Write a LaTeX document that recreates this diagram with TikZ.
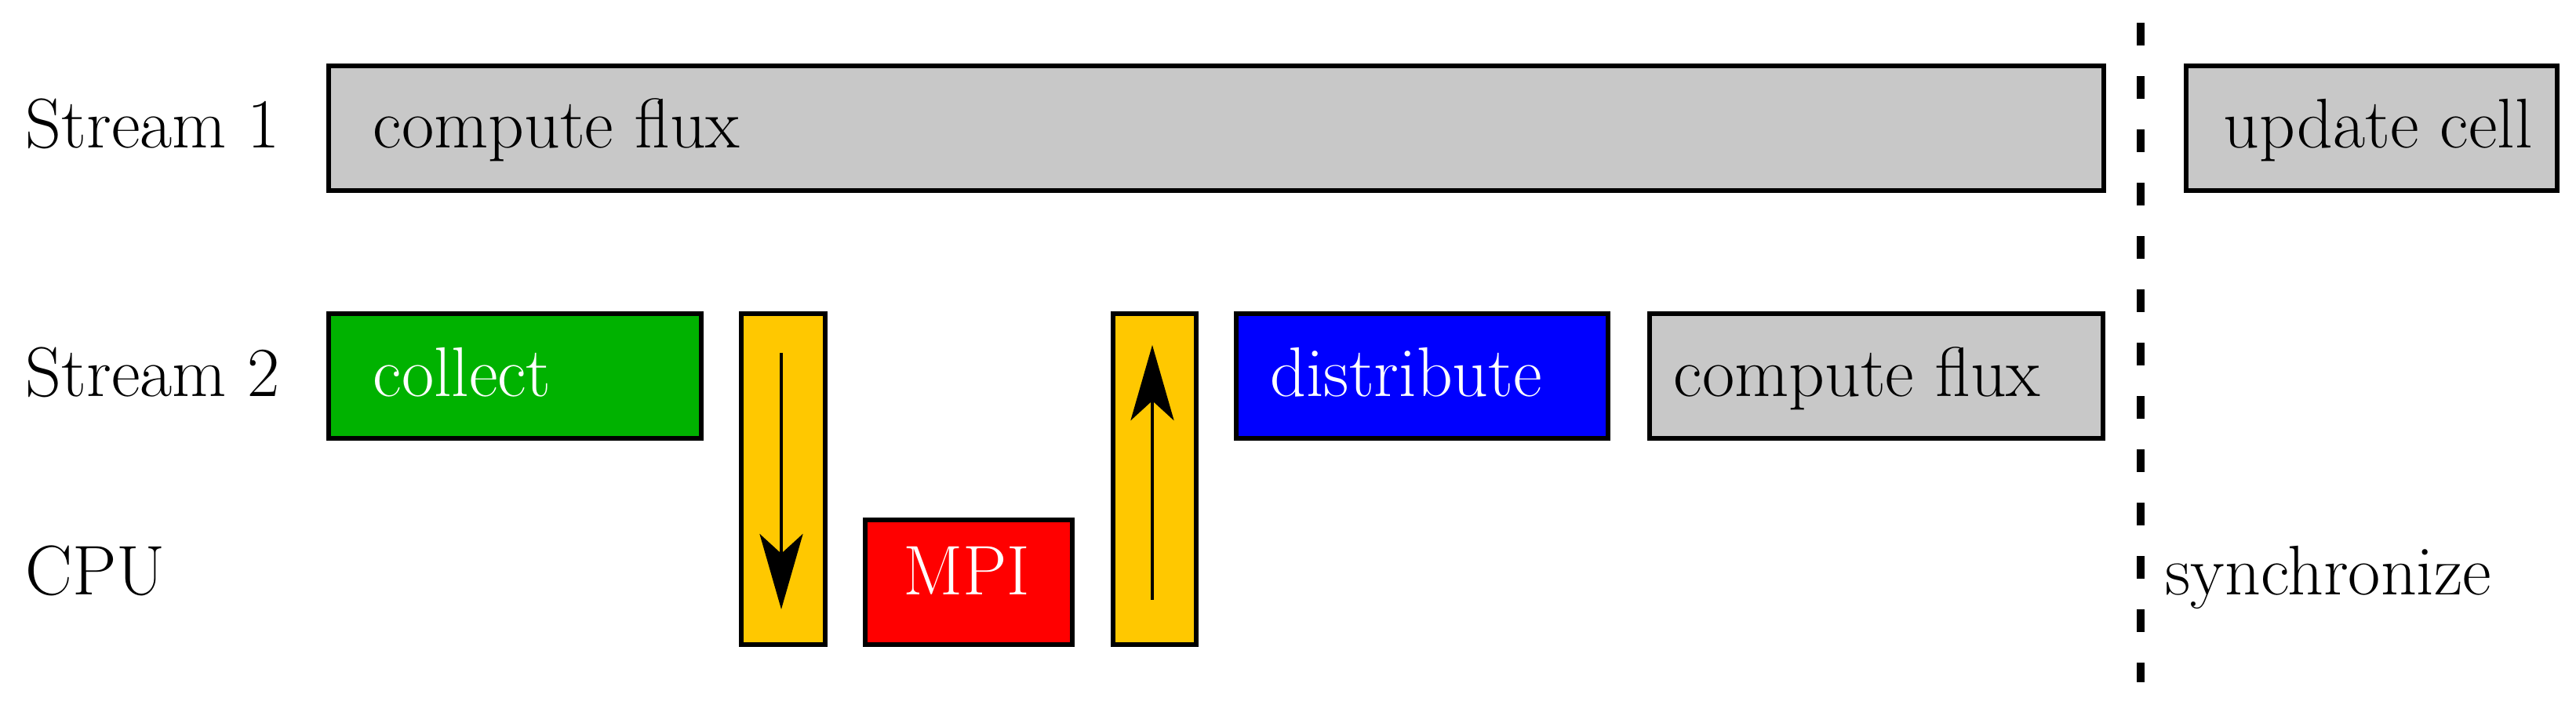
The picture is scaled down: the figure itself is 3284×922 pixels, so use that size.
\documentclass[tikz,border=0pt]{standalone}
\usetikzlibrary{arrows.meta}
\definecolor{boxgray}{RGB}{200,200,200}
\definecolor{boxgreen}{RGB}{0,178,0}
\definecolor{boxyellow}{RGB}{255,200,0}
\definecolor{boxblue}{RGB}{0,0,255}
\definecolor{boxred}{RGB}{255,0,0}
\begin{document}
\begin{tikzpicture}[x=0.01cm,y=-0.01cm,
  txt/.style={font=\fontsize{25.5}{30}\selectfont, inner sep=0pt, anchor=base west},
  wtxt/.style={txt, text=white},
  bar/.style={draw=black, line width=1.7pt, inner sep=0pt, anchor=north west},
  flow/.style={line width=1.4pt, -{Stealth[length=0.96cm,width=0.55cm,inset=0.25cm]}},
  syncline/.style={line width=2.8pt, dash pattern=on 0.29cm off 0.39cm}
]
\useasboundingbox (0,0) rectangle (3284,922);
% row labels
\node[txt] (l1) at (32,189) {Stream 1};
\node[txt] (l2) at (32,506) {Stream 2};
\node[txt] (l3) at (32,759) {CPU};
% stream 1
\node[bar, fill=boxgray, minimum width=22.62cm, minimum height=1.59cm] (cf1) at (416,81) {};
\node[txt] (cf1t) at (475,189) {compute flux};
\node[bar, fill=boxgray, minimum width=4.73cm, minimum height=1.59cm] (uc) at (2784,81) {};
\node[txt] (uct) at (2834,189) {update cell};
% stream 2
\node[bar, fill=boxgreen, minimum width=4.75cm, minimum height=1.59cm] (col) at (416,397) {};
\node[wtxt] (colt) at (475,506) {collect};
\node[bar, fill=boxyellow, minimum width=1.07cm, minimum height=4.22cm] (y1) at (942,397) {};
\node[bar, fill=boxred, minimum width=2.64cm, minimum height=1.59cm] (mpi) at (1100,660) {};
\node[wtxt, anchor=base] (mpit) at (1232,759) {MPI};
\node[bar, fill=boxyellow, minimum width=1.06cm, minimum height=4.22cm] (y2) at (1416,397) {};
\node[bar, fill=boxblue, minimum width=4.74cm, minimum height=1.59cm] (dis) at (1573,397) {};
\node[wtxt] (dist) at (1619,506) {distribute};
\node[bar, fill=boxgray, minimum width=5.78cm, minimum height=1.59cm] (cf2) at (2100,397) {};
\node[txt] (cf2t) at (2133,506) {compute flux};
% arrows
\coordinate (a1s) at (996,450);
\coordinate (a1e) at (996,777);
\coordinate (a2s) at (1469,765);
\coordinate (a2e) at (1469,440);
\draw[flow] (a1s) -- (a1e);
\draw[flow] (a2s) -- (a2e);
% synchronize
\coordinate (st) at (2729,29);
\coordinate (sb) at (2729,870);
\draw[syncline] (st) -- (sb);
\node[txt] (sync) at (2760,759) {synchronize};
\end{tikzpicture}
\end{document}
